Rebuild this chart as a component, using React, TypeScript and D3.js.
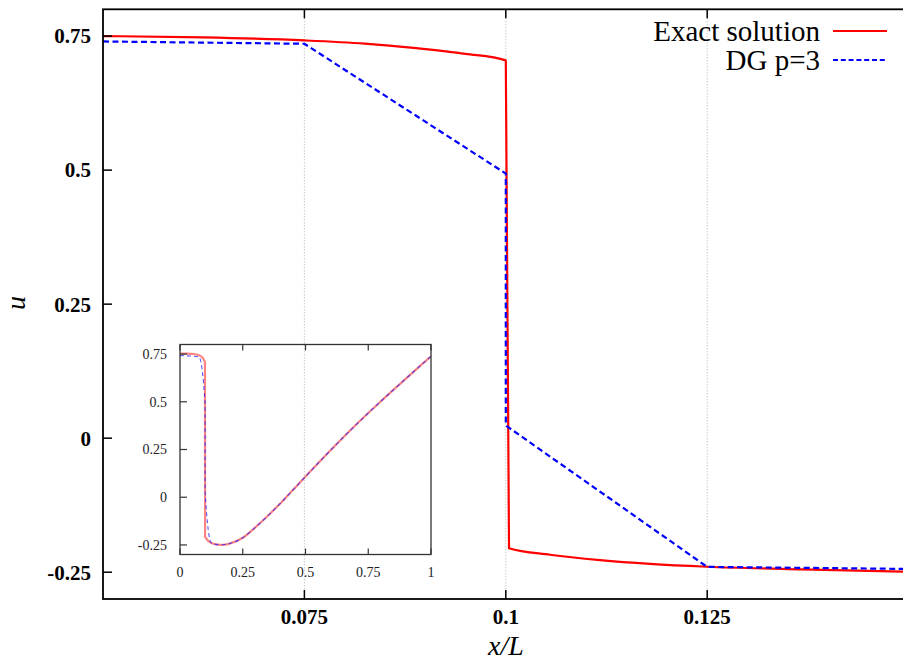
import React from 'react';
import * as d3 from 'd3';

// ---------- data ----------
const mainXTicks = [0.075, 0.1, 0.125];
const mainXTickLabels = ['0.075', '0.1', '0.125'];
const mainYTicks = [-0.25, 0, 0.25, 0.5, 0.75];
const mainYTickLabels = ['-0.25', '0', '0.25', '0.5', '0.75'];

const exactMainX = [0.05, 0.0625, 0.075, 0.0825, 0.0889, 0.095, 0.1, 0.1004, 0.1055, 0.1117, 0.1179, 0.125, 0.1366, 0.15];
const exactMainU = [0.75, 0.7475, 0.742, 0.736, 0.7275, 0.717, 0.7047, -0.2053, -0.2175, -0.2275, -0.2345, -0.2398, -0.2448, -0.249];

const dgMainX = [0.05, 0.075, 0.1, 0.1, 0.125, 0.15];
const dgMainU = [0.74, 0.7357, 0.4936, 0.0237, -0.2401, -0.2439];

const insetXTicks = [0, 0.25, 0.5, 0.75, 1];
const insetXTickLabels = ['0', '0.25', '0.5', '0.75', '1'];
const insetYTicks = [-0.25, 0, 0.25, 0.5, 0.75];
const insetYTickLabels = ['-0.25', '0', '0.25', '0.5', '0.75'];

const exactInsetX = [0, 0.03, 0.06, 0.073, 0.085, 0.093, 0.098, 0.0995, 0.1, 0.105, 0.115, 0.125, 0.14, 0.16, 0.18, 0.2, 0.25, 0.3, 0.35, 0.4, 0.45, 0.5, 0.55, 0.6, 0.65, 0.7, 0.75, 0.8, 0.85, 0.9, 0.95, 1];
const exactInsetU = [0.752, 0.752, 0.749, 0.745, 0.737, 0.725, 0.712, 0.705, -0.205, -0.2165, -0.232, -0.24, -0.246, -0.25, -0.248, -0.242, -0.212, -0.158, -0.097, -0.032, 0.038, 0.108, 0.178, 0.246, 0.313, 0.378, 0.441, 0.502, 0.562, 0.621, 0.68, 0.738];

const dgInsetX = [0, 0.075, 0.1, 0.1001, 0.125, 0.16, 0.18, 0.2, 0.25, 0.3, 0.35, 0.4, 0.45, 0.5, 0.55, 0.6, 0.65, 0.7, 0.75, 0.8, 0.85, 0.9, 0.95, 1];
const dgInsetU = [0.742, 0.7357, 0.4936, 0.0237, -0.2401, -0.249, -0.248, -0.242, -0.212, -0.158, -0.097, -0.032, 0.038, 0.108, 0.178, 0.246, 0.313, 0.378, 0.441, 0.502, 0.562, 0.621, 0.68, 0.738];

const legendLabels = ['Exact solution', 'DG p=3'];

// ---------- layout ----------
const W = 903;
const H = 660;
const SERIF = '"Liberation Serif", "DejaVu Serif", "Times New Roman", serif';

export default function App() {
  const x = d3.scaleLinear().domain([0.05, 0.15]).range([103, 908.6]);
  const y = d3.scaleLinear().domain([-0.3, 0.8]).range([599, 9.3]);

  const ix = d3.scaleLinear().domain([0, 1]).range([180, 431]);
  const iy = d3.scaleLinear().domain([-0.3, 0.8]).range([554.5, 344.5]);

  const zip = (xs: number[], us: number[]) => xs.map((v, i) => [v, us[i]] as [number, number]);

  const mainSmooth = d3.line<[number, number]>().x(d => x(d[0])).y(d => y(d[1])).curve(d3.curveMonotoneX);
  const mainLin = d3.line<[number, number]>().x(d => x(d[0])).y(d => y(d[1]));
  const insetSmooth = d3.line<[number, number]>().x(d => ix(d[0])).y(d => iy(d[1])).curve(d3.curveMonotoneX);

  const [x0, x1] = x.range();
  const [y0, y1] = y.range();
  const [ix0, ix1] = ix.range();
  const [iy0, iy1] = iy.range();

  return (
    <svg width={W} height={H} style={{ position: 'absolute', left: 0, top: 0, background: '#fff' }} fontFamily={SERIF}>
      <defs>
        <clipPath id="mainClip">
          <rect x={x0} y={y1} width={x1 - x0} height={y0 - y1} />
        </clipPath>
        <clipPath id="insetClip">
          <rect x={ix0} y={iy1} width={ix1 - ix0} height={iy0 - iy1} />
        </clipPath>
      </defs>
      <rect x={0} y={0} width={W} height={H} fill="#fff" />

      {/* main grid */}
      {mainXTicks.map((t, i) => (
        <line key={'g' + i} x1={x(t)} x2={x(t)} y1={y1} y2={y0} stroke="#b0b0b0" strokeWidth={1} strokeDasharray="1,2" />
      ))}

      {/* main curves */}
      <g clipPath="url(#mainClip)">
        <path d={mainSmooth(zip(exactMainX, exactMainU)) || ''} fill="none" stroke="#ff0000" strokeWidth={2.2} strokeLinejoin="round" />
        <path d={mainLin(zip(dgMainX, dgMainU)) || ''} fill="none" stroke="#0000ff" strokeWidth={2.2} strokeDasharray="6,3.5" />
      </g>

      {/* main frame */}
      <rect x={x0} y={y1} width={x1 - x0} height={y0 - y1} fill="none" stroke="#000" strokeWidth={1.8} />
      {mainXTicks.map((t, i) => (
        <g key={'xt' + i}>
          <line x1={x(t)} x2={x(t)} y1={y0} y2={y0 - 9} stroke="#000" strokeWidth={1.5} />
          <line x1={x(t)} x2={x(t)} y1={y1} y2={y1 + 9} stroke="#000" strokeWidth={1.5} />
          <text x={x(t)} y={624} textAnchor="middle" fontWeight="bold" fontSize={21}>{mainXTickLabels[i]}</text>
        </g>
      ))}
      {mainYTicks.map((t, i) => (
        <g key={'yt' + i}>
          <line x1={x0} x2={x0 + 9} y1={y(t)} y2={y(t)} stroke="#000" strokeWidth={1.5} />
          <text x={91} y={y(t)} dy="0.35em" textAnchor="end" fontWeight="bold" fontSize={21}>{mainYTickLabels[i]}</text>
        </g>
      ))}

      {/* axis labels */}
      <text x={506} y={655} textAnchor="middle" fontStyle="italic" fontSize={28}>x/L</text>
      <text transform="translate(25,303) rotate(-90)" textAnchor="middle" fontStyle="italic" fontSize={28}>u</text>

      {/* legend */}
      {legendLabels.map((lab, i) => (
        <g key={'lg' + i}>
          <text x={820} y={41 + i * 29} textAnchor="end" fontSize={29}>{lab}</text>
          <line x1={833} x2={887} y1={31 + i * 29} y2={31 + i * 29}
            stroke={i === 0 ? '#ff0000' : '#0000ff'} strokeWidth={2}
            strokeDasharray={i === 0 ? undefined : '5,2.8'} />
        </g>
      ))}

      {/* inset */}
      <g clipPath="url(#insetClip)">
        <path d={insetSmooth(zip(exactInsetX, exactInsetU)) || ''} fill="none" stroke="#ff3030" strokeOpacity={0.6} strokeWidth={2.2} strokeLinejoin="round" />
        <path d={insetSmooth(zip(dgInsetX, dgInsetU)) || ''} fill="none" stroke="#2020ff" strokeOpacity={0.75} strokeWidth={1.1} strokeDasharray="4,3" />
      </g>
      <rect x={ix0} y={iy1} width={ix1 - ix0} height={iy0 - iy1} fill="none" stroke="#333" strokeWidth={1.3} />
      {insetXTicks.map((t, i) => (
        <g key={'ixt' + i}>
          <line x1={ix(t)} x2={ix(t)} y1={iy0} y2={iy0 - 6} stroke="#333" strokeWidth={1.2} />
          <line x1={ix(t)} x2={ix(t)} y1={iy1} y2={iy1 + 6} stroke="#333" strokeWidth={1.2} />
          <text x={ix(t)} y={577} textAnchor="middle" fontSize={14} fill="#222">{insetXTickLabels[i]}</text>
        </g>
      ))}
      {insetYTicks.map((t, i) => (
        <g key={'iyt' + i}>
          <line x1={ix0} x2={ix0 + 7} y1={iy(t)} y2={iy(t)} stroke="#333" strokeWidth={1.2} />
          <text x={167} y={iy(t)} dy="0.35em" textAnchor="end" fontSize={14} fill="#222">{insetYTickLabels[i]}</text>
        </g>
      ))}
    </svg>
  );
}
